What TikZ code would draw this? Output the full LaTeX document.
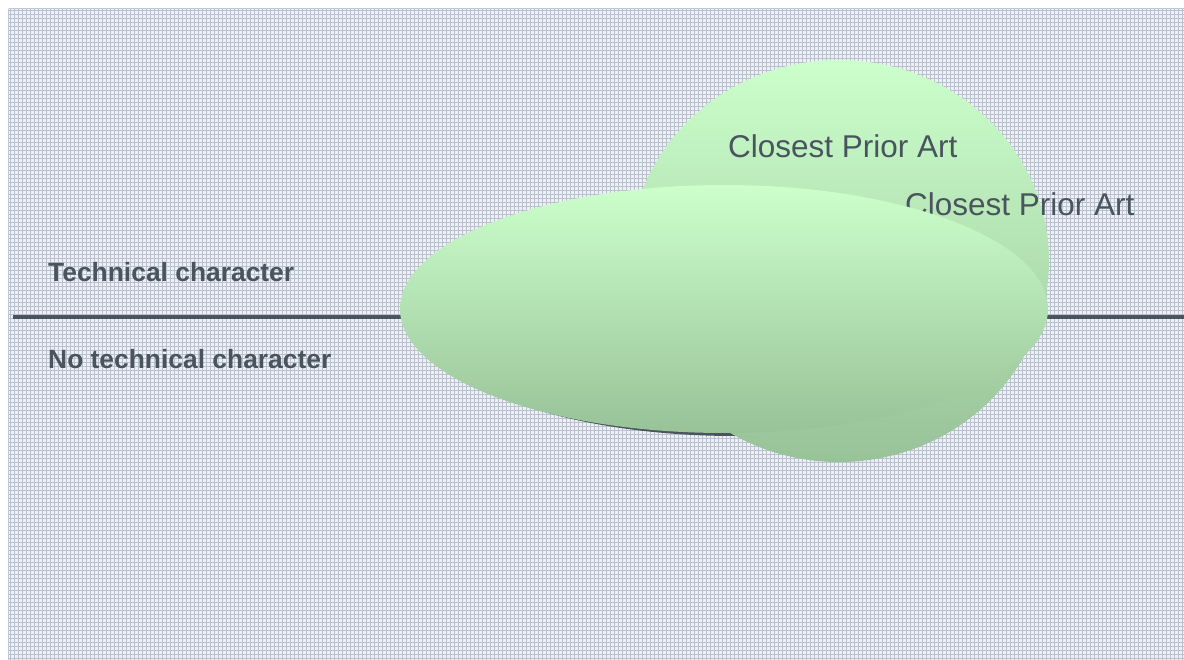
\documentclass[tikz,border=0pt]{standalone}
\usepackage{fontspec}
\setmainfont{Liberation Sans}
\definecolor{inkgray}{RGB}{74,84,94}
\definecolor{paper}{RGB}{238,240,245}
\definecolor{paperline}{RGB}{186,193,206}
\definecolor{frameline}{RGB}{188,200,214}
\definecolor{mintlight}{RGB}{204,255,204}
\definecolor{mintdark}{RGB}{152,194,152}
\tikzset{
  sidelabel/.style={anchor=base west, inner sep=0pt, text=inkgray,
    font=\fontsize{26.4}{31}\selectfont\bfseries},
  artlabel/.style={anchor=base west, inner sep=0pt, text=inkgray,
    font=\fontsize{31.5}{36}\selectfont},
  gridline/.style={draw=paperline, line width=0.9pt},
  divider/.style={draw=inkgray, line width=3.6pt},
  blob/.style={top color=mintlight, bottom color=mintdark},
}
\begin{document}
\begin{tikzpicture}[x=1pt, y=-1pt]
  \useasboundingbox (0,0) rectangle (1184,660);
  % graph-paper background with its frame
  \fill[paper] (8,8) rectangle (1184,660);
  \foreach \gx in {10,14,...,1182} {
    \draw[gridline] (\gx,8) -- (\gx,660);
  }
  \foreach \gy in {10,14,...,658} {
    \draw[gridline] (8,\gy) -- (1184,\gy);
  }
  \draw[frameline, line width=1.2pt] (8.6,8.6) -- (1184,8.6);
  \draw[frameline, line width=1.2pt] (8.6,8.6) -- (8.6,660);

  % divider between the two regions
  \coordinate (divL) at (13,317);
  \coordinate (divR) at (1184,317);
  \draw[divider] (divL) -- (divR);

  \node[sidelabel] (tech)   at (48,282) {Technical character};
  \node[sidelabel] (notech) at (48,369) {No technical character};

  % drop shadow of the wide ellipse; it tapers out along the lower rim
  \begin{scope}
    \clip (400,300) rectangle (800,460);
    \fill[inkgray] (735,313) ellipse [x radius=321, y radius=123];
  \end{scope}
  % rear round blob
  \shade[blob] (839,261) ellipse [x radius=210, y radius=201];
  \node[artlabel] (art1) at (728,158) {Closest Prior Art};
  \node[artlabel] (art2) at (905,216) {Closest Prior Art};
  % front wide ellipse
  \shade[blob] (724,309) ellipse [x radius=324, y radius=124];
\end{tikzpicture}
\end{document}
